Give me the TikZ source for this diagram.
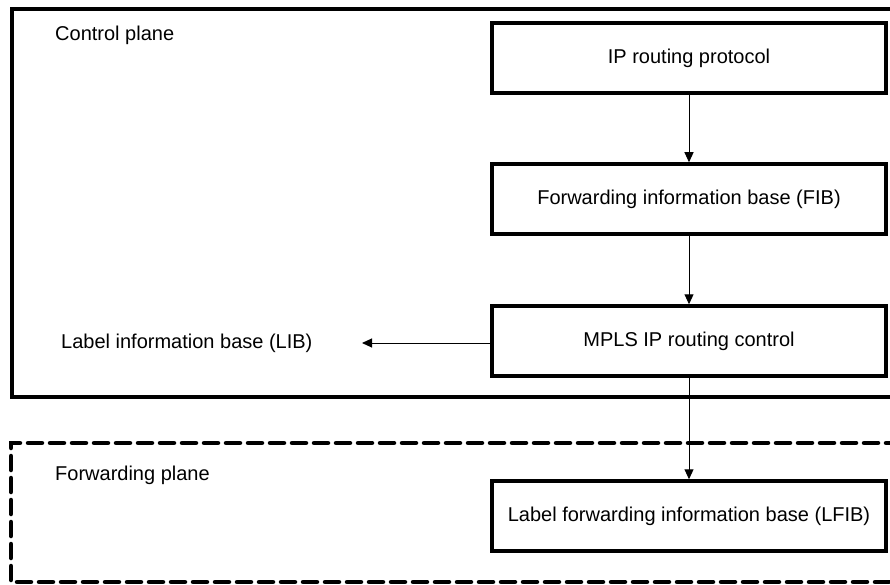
\documentclass[tikz,border=0pt]{standalone}
\usepackage{fontspec}
\setmainfont{Liberation Sans}
\usetikzlibrary{arrows.meta, positioning}

\begin{document}
\begin{tikzpicture}[
        x=1pt, y=-1pt,
        font=\fontsize{20}{24}\selectfont,
        block/.style={rectangle, draw, line width=3.5pt, minimum width=394pt, minimum height=70pt, align=center},
        plane/.style={line width=3.5pt},
        dashplane/.style={line width=4.5pt, dash pattern=on 14pt off 8pt, line cap=round},
        flow/.style={-{Triangle[length=10pt, width=9pt]}, line width=1pt}
    ]
        \clip (0,0) rectangle (890,585);
        \fill[white] (0,0) rectangle (890,585);

        % Planes
        \draw[plane] (900,9) -- (12,9) -- (12,397) -- (900,397);
        \draw[dashplane] (900,443) -- (11,443) -- (11,582) -- (900,582);
        \node[anchor=west, inner sep=0pt] (ctrl) at (55,35) {Control plane};
        \node[anchor=west, inner sep=0pt] (fwd) at (55,475) {Forwarding plane};

        % Boxes
        \node[block] (ip) at (689,58) {IP routing protocol};
        \node[block] (fib) at (689,199) {Forwarding information base (FIB)};
        \node[block] (mpls) at (689,341) {MPLS IP routing control};
        \node[block] (lfib) at (689,516) {Label forwarding information base (LFIB)};
        \node[anchor=west, inner sep=0pt] (lib) at (61,343) {Label information base (LIB)};
        \coordinate (libend) at (362,343);

        % Arrows
        \draw[flow] (ip) -- (fib);
        \draw[flow] (fib) -- (mpls);
        \draw[flow] (mpls) -- (lfib);
        \draw[flow] (mpls.west |- libend) -- (libend);
    \end{tikzpicture}
\end{document}
